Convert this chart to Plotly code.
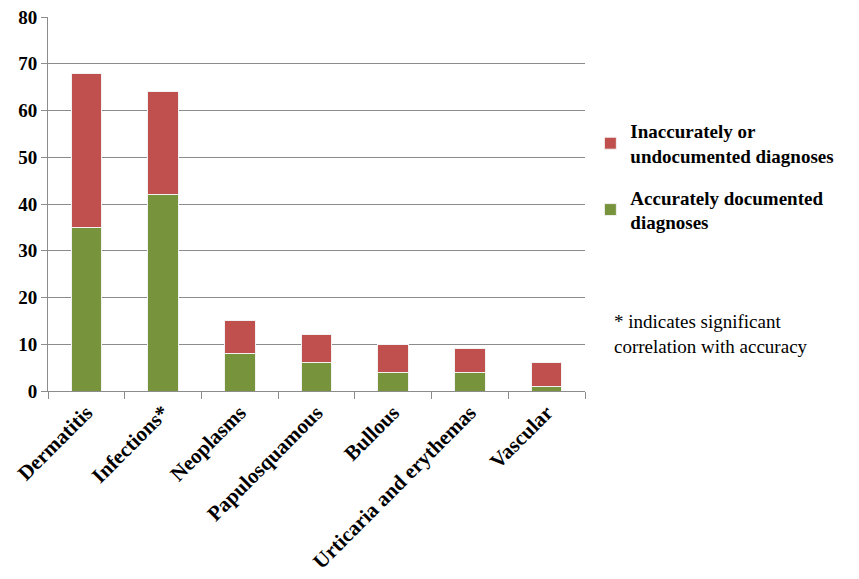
import plotly.graph_objects as go

categories = ["Dermatitis", "Infections*", "Neoplasms", "Papulosquamous", "Bullous",
              "Urticaria and erythemas", "Vascular"]
accurate = [35, 42, 8, 6, 4, 4, 1]
inaccurate = [33, 22, 7, 6, 6, 5, 5]
y_ticks = [0, 10, 20, 30, 40, 50, 60, 70, 80]

SERIF = "Liberation Serif"

fig = go.Figure()
fig.add_trace(go.Bar(x=categories, y=accurate, name="Accurately documented<br>diagnoses",
                     legendgroup="a", legendrank=2,
                     marker=dict(color="#77933C", line=dict(color="#F2F2F2", width=1))))
fig.add_trace(go.Bar(x=categories, y=inaccurate, name="Inaccurately or<br>undocumented diagnoses",
                     legendgroup="b", legendrank=1,
                     marker=dict(color="#C0504D", line=dict(color="#F2F2F2", width=1))))

fig.update_layout(
    width=859, height=579,
    barmode="stack", bargap=0.6,
    plot_bgcolor="white", paper_bgcolor="white",
    margin=dict(l=48, r=274, t=17, b=188),
    font=dict(family=SERIF, color="black"),
    legend=dict(x=1.01, y=0.746, xanchor="left", yanchor="top", traceorder="grouped",
                font=dict(size=19, family=SERIF, weight="bold"),
                itemwidth=30, tracegroupgap=14),
    annotations=[dict(text="* indicates significant<br>correlation with accuracy",
                      xref="paper", yref="paper", x=1.05, y=0.153, xanchor="left",
                      yanchor="middle", align="left", showarrow=False,
                      font=dict(size=19, family=SERIF))],
)
fig.update_xaxes(showline=True, linecolor="#8C8C8C", linewidth=1, ticks="outside",
                 tickson="boundaries", ticklen=7, tickcolor="#8C8C8C", tickangle=-45,
                 tickfont=dict(size=21, family=SERIF, weight="bold"),
                 showgrid=False, automargin=False)
fig.update_yaxes(range=[0, 80], tickvals=y_ticks, showline=True, linecolor="#8C8C8C",
                 linewidth=1, ticks="outside", ticklen=6, tickcolor="#8C8C8C",
                 gridcolor="#8C8C8C", gridwidth=1, zeroline=False, automargin=False,
                 tickfont=dict(size=19, family=SERIF, weight="bold"))

fig.write_html("out.html")
